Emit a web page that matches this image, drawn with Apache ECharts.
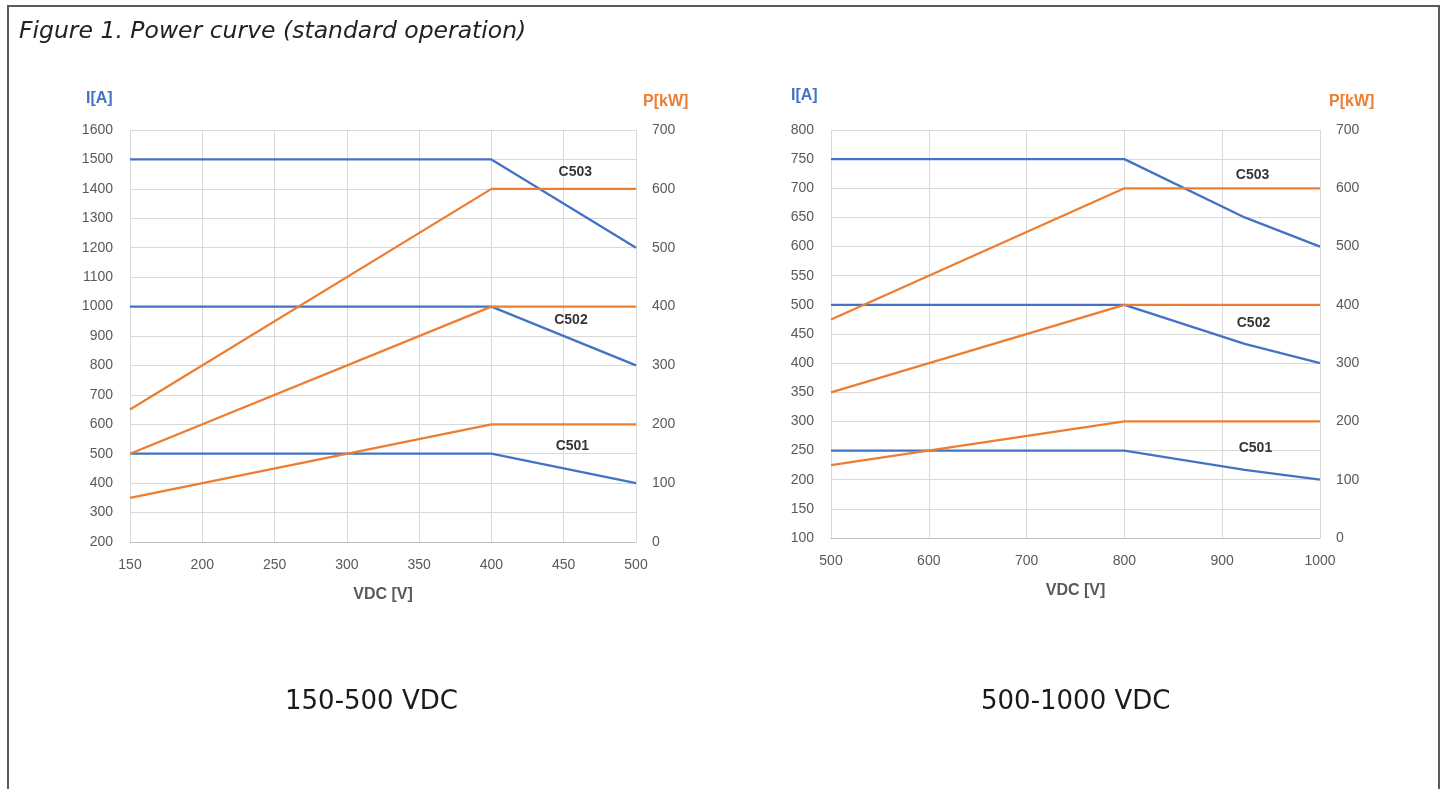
<!DOCTYPE html>
<html>
<head>
<meta charset="utf-8">
<script src="https://cdn.jsdelivr.net/npm/echarts@6/dist/echarts.min.js"></script>
<style>
  html, body { margin: 0; padding: 0; background: #fff; }
  #frame { position: absolute; left: 7px; top: 5px; width: 1433px; height: 800px;
           border: 2px solid #5a5a5a; border-bottom: none; box-sizing: border-box; }
  #chart { position: absolute; left: 0; top: 0; width: 1449px; height: 789px; }
</style>
</head>
<body>
<div id="frame"></div>
<div id="chart"></div>
<script>
// ---- Chart 1: 150-500 VDC ----
const volt1 = [150, 400, 500];
const cur1_C503 = [1500, 1500, 1200];
const cur1_C502 = [1000, 1000, 800];
const cur1_C501 = [500, 500, 400];
const pow1_C503 = [225, 600, 600];
const pow1_C502 = [150, 400, 400];
const pow1_C501 = [75, 200, 200];
const labels1 = [["C503", 458, 1457], ["C502", 455, 954], ["C501", 456, 526]];

// ---- Chart 2: 500-1000 VDC ----
const voltI2 = [500, 800, 923, 1000];
const cur2_C503 = [750, 750, 650, 600];
const cur2_C502 = [500, 500, 433, 400];
const cur2_C501 = [250, 250, 217, 200];
const voltP2 = [500, 800, 1000];
const pow2_C503 = [375, 600, 600];
const pow2_C502 = [250, 400, 400];
const pow2_C501 = [125, 200, 200];
const labels2 = [["C503", 931, 723], ["C502", 932, 469], ["C501", 934, 254]];

const titleText = "Figure 1. Power curve (standard operation)";
const caption1 = "150-500 VDC";
const caption2 = "500-1000 VDC";

const BLUE = "#4472C4", ORANGE = "#ED7D31", GRID = "#D9D9D9", TXT = "#595959";
const tickFont = "'Liberation Sans', sans-serif";
const plain = v => String(v);

function zip(xs, ys) { return xs.map((x, i) => [x, ys[i]]); }

function xAx(gi, min, max, interval) {
  return {
    type: "value", gridIndex: gi, min, max, interval,
    name: "VDC [V]", nameLocation: "middle", nameGap: 45,
    nameTextStyle: { color: TXT, fontSize: 16, fontWeight: "bold", fontFamily: tickFont },
    axisLine: { show: true, lineStyle: { color: "#BFBFBF", width: 1 } },
    axisTick: { show: false },
    axisLabel: { color: TXT, fontSize: 14, fontFamily: tickFont, margin: 16, formatter: plain },
    splitLine: { show: true, lineStyle: { color: GRID, width: 1 } }
  };
}
function yAx(gi, min, max, interval, pos, grid) {
  return {
    type: "value", gridIndex: gi, min, max, interval, position: pos,
    axisLine: { show: false }, axisTick: { show: false },
    axisLabel: { color: TXT, fontSize: 14, fontFamily: tickFont, margin: pos === "left" ? 17 : 16,
                 align: pos === "left" ? "right" : "left", formatter: plain },
    splitLine: { show: grid, lineStyle: { color: GRID, width: 1 } }
  };
}
function line(xi, yi, data, color) {
  return { type: "line", xAxisIndex: xi, yAxisIndex: yi, data, symbol: "none",
           lineStyle: { color, width: 2.3 }, silent: true, animation: false };
}
function labelSeries(xi, yi, arr) {
  return { type: "scatter", xAxisIndex: xi, yAxisIndex: yi, symbolSize: 0, silent: true, animation: false,
           data: arr.map(a => ({ value: [a[1], a[2]], name: a[0] })),
           label: { show: true, position: "inside", formatter: p => p.name, color: "#000",
                    fontSize: 14, fontWeight: "bold", fontFamily: tickFont } };
}
function txt(text, left, top, style) {
  return { text, left, top, textStyle: style };
}

const chart = echarts.init(document.getElementById("chart"), null, { renderer: "canvas" });
chart.setOption({
  animation: false,
  title: [
    txt(titleText, 14, 15, { fontFamily: "'DejaVu Sans', sans-serif", fontStyle: "italic", fontWeight: "normal", fontSize: 23.5, color: "#222" }),
    txt("I[A]", 81, 86, { fontFamily: tickFont, fontWeight: "bold", fontSize: 16, color: BLUE }),
    txt("P[kW]", 638, 89, { fontFamily: tickFont, fontWeight: "bold", fontSize: 16, color: ORANGE }),
    txt("I[A]", 786, 83, { fontFamily: tickFont, fontWeight: "bold", fontSize: 16, color: BLUE }),
    txt("P[kW]", 1324, 89, { fontFamily: tickFont, fontWeight: "bold", fontSize: 16, color: ORANGE }),
    txt(caption1, 280, 684, { fontFamily: "'DejaVu Sans', sans-serif", fontWeight: "normal", fontSize: 26, color: "#1a1a1a" }),
    txt(caption2, 976, 684, { fontFamily: "'DejaVu Sans', sans-serif", fontWeight: "normal", fontSize: 26, color: "#1a1a1a" })
  ],
  grid: [
    { left: 130, top: 130, width: 506, height: 412 },
    { left: 831, top: 130, width: 489, height: 408 }
  ],
  xAxis: [ xAx(0, 150, 500, 50), xAx(1, 500, 1000, 100) ],
  yAxis: [
    yAx(0, 200, 1600, 100, "left", true),
    yAx(0, 0, 700, 100, "right", false),
    yAx(1, 100, 800, 50, "left", true),
    yAx(1, 0, 700, 100, "right", false)
  ],
  series: [
    line(0, 0, zip(volt1, cur1_C503), BLUE),
    line(0, 0, zip(volt1, cur1_C502), BLUE),
    line(0, 0, zip(volt1, cur1_C501), BLUE),
    line(0, 1, zip(volt1, pow1_C503), ORANGE),
    line(0, 1, zip(volt1, pow1_C502), ORANGE),
    line(0, 1, zip(volt1, pow1_C501), ORANGE),
    labelSeries(0, 0, labels1),
    line(1, 2, zip(voltI2, cur2_C503), BLUE),
    line(1, 2, zip(voltI2, cur2_C502), BLUE),
    line(1, 2, zip(voltI2, cur2_C501), BLUE),
    line(1, 3, zip(voltP2, pow2_C503), ORANGE),
    line(1, 3, zip(voltP2, pow2_C502), ORANGE),
    line(1, 3, zip(voltP2, pow2_C501), ORANGE),
    labelSeries(1, 2, labels2)
  ]
});
</script>
</body>
</html>
